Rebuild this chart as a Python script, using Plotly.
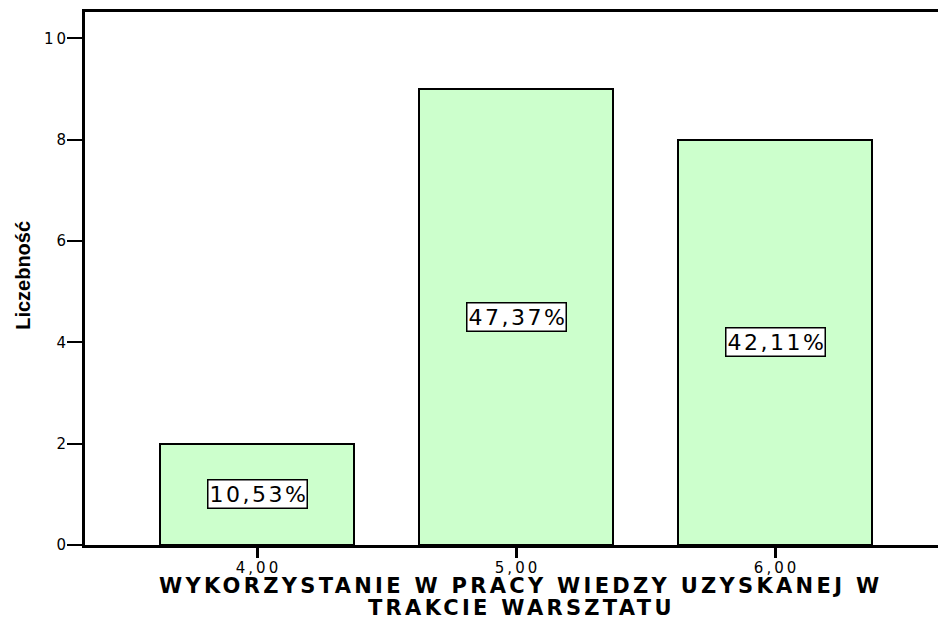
import plotly.graph_objects as go

# Response categories (numeric scale values) and their counts
categories = [4.0, 5.0, 6.0]
category_labels = ["4,00", "5,00", "6,00"]
counts = [2, 9, 8]
y_ticks = [0, 2, 4, 6, 8, 10]

total = sum(counts)
percent_labels = [f"{c / total * 100:.2f}%".replace(".", ",") for c in counts]

BAR_FILL = "#CCFFCC"
INK = "black"
SANS = "DejaVu Sans, Arial, sans-serif"
TICK_FONT = dict(family=SANS, size=15, color=INK)


def spaced(text, px):
    """Track out every character except the last one."""
    if len(text) < 2:
        return text
    return f'<span style="letter-spacing:{px}px">{text[:-1]}</span>{text[-1]}'


fig = go.Figure()

fig.add_trace(go.Bar(
    x=categories,
    y=counts,
    width=0.75,
    marker=dict(color=BAR_FILL, line=dict(color=INK, width=2)),
    hoverinfo="skip",
    showlegend=False,
))

# Percentage labels in boxes, placed halfway up each bar
for x, c, lab in zip(categories, counts, percent_labels):
    fig.add_annotation(
        x=x, y=c / 2, xref="x", yref="y",
        text=spaced(lab, 2.5),
        showarrow=False,
        font=dict(family=SANS, size=22, color=INK),
        bgcolor="white",
        bordercolor=INK,
        borderwidth=1.5,
        borderpad=1,
        xanchor="center", yanchor="middle",
    )

# X-axis title, two lines
title_font = dict(family=SANS, size=21, color=INK, weight="bold")
title_lines = ["WYKORZYSTANIE W PRACY WIEDZY UZYSKANEJ W", "TRAKCIE WARSZTATU"]
fig.add_annotation(
    x=0.509, y=0, xref="paper", yref="paper",
    yanchor="middle", xanchor="center", yshift=-41,
    text=spaced(title_lines[0], 3.3),
    showarrow=False, font=title_font,
)
fig.add_annotation(
    x=0.509, y=0, xref="paper", yref="paper",
    yanchor="bottom", xanchor="center", yshift=-77,
    text=spaced(title_lines[1], 3.3),
    showarrow=False, font=title_font,
)

# Y-axis title
fig.add_annotation(
    x=0, y=0.505, xref="paper", yref="paper",
    xanchor="center", yanchor="middle", xshift=-62,
    text="Liczebność",
    textangle=-90,
    showarrow=False,
    font=dict(family="Liberation Sans Narrow, Arial Narrow, Arial, sans-serif",
              size=20, color=INK, weight="bold"),
)

fig.update_xaxes(
    range=[3.336, 6.629],
    tickmode="array",
    tickvals=categories,
    ticktext=[spaced(t, 3) for t in category_labels],
    ticks="outside", ticklen=10, tickwidth=2.5, tickcolor=INK,
    tickfont=TICK_FONT,
    ticklabelstandoff=-3,
    showline=True, linecolor=INK, linewidth=3, mirror=True,
    showgrid=False, zeroline=False,
)
fig.update_yaxes(
    range=[0, 10.52],
    tickmode="array",
    tickvals=y_ticks,
    ticktext=[spaced(str(v), 3) for v in y_ticks],
    ticks="outside", ticklen=15, tickwidth=2, tickcolor=INK,
    tickfont=TICK_FONT,
    ticklabelstandoff=-2,
    showline=True, linecolor=INK, linewidth=3,
    showgrid=False, zeroline=False,
)

fig.update_layout(
    width=938, height=619,
    margin=dict(l=85, r=0, t=12, b=74),
    plot_bgcolor="white",
    paper_bgcolor="white",
    bargap=0,
)

fig.write_html("out.html")
